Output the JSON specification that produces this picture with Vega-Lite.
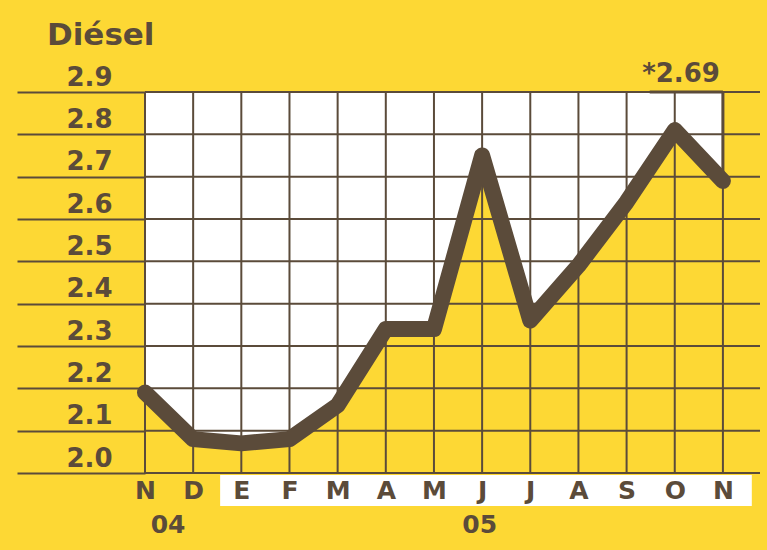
{
  "$schema": "https://vega.github.io/schema/vega-lite/v6.json",
  "autosize": "none",
  "width": 615,
  "height": 381,
  "padding": {"left": 145, "top": 92, "right": 7, "bottom": 77},
  "background": "#FDD834",
  "config": {"view": {"stroke": null, "fill": null}},
  "title": {
    "text": "Diésel",
    "anchor": "start",
    "frame": "group",
    "dx": -98,
    "dy": -5,
    "font": "DejaVu Sans",
    "fontSize": 31,
    "fontWeight": "bold",
    "color": "#5B4B3A"
  },
  "datasets": {
    "precios": [
      {"i": 0, "mes": "N", "precio": 2.19},
      {"i": 1, "mes": "D", "precio": 2.08},
      {"i": 2, "mes": "E", "precio": 2.07},
      {"i": 3, "mes": "F", "precio": 2.08},
      {"i": 4, "mes": "M", "precio": 2.16},
      {"i": 5, "mes": "A", "precio": 2.34},
      {"i": 6, "mes": "M", "precio": 2.34},
      {"i": 7, "mes": "J", "precio": 2.75},
      {"i": 8, "mes": "J", "precio": 2.36},
      {"i": 9, "mes": "A", "precio": 2.49},
      {"i": 10, "mes": "S", "precio": 2.64},
      {"i": 11, "mes": "O", "precio": 2.81},
      {"i": 12, "mes": "N", "precio": 2.69}
    ],
    "rejilla": [
      {"nivel": 2.0}, {"nivel": 2.1}, {"nivel": 2.2}, {"nivel": 2.3}, {"nivel": 2.4},
      {"nivel": 2.5}, {"nivel": 2.6}, {"nivel": 2.7}, {"nivel": 2.8}, {"nivel": 2.9}
    ],
    "anios": [
      {"pos": 0.48, "anio": "04"},
      {"pos": 6.95, "anio": "05"}
    ],
    "uno": [{"nota": "*2.69"}]
  },
  "layer": [
    {
      "data": {"name": "precios"},
      "mark": {"type": "area", "color": "#FFFFFF", "interpolate": "linear"},
      "encoding": {
        "x": {
          "field": "i", "type": "quantitative",
          "scale": {"domain": [0, 12.77], "nice": false, "zero": false},
          "axis": {
            "orient": "bottom", "title": null, "domain": false, "ticks": false, "grid": false,
            "values": [0, 1, 2, 3, 4, 5, 6, 7, 8, 9, 10, 11, 12],
            "labelExpr": "['N','D','E','F','M','A','M','J','J','A','S','O','N'][datum.value]",
            "labelFont": "DejaVu Sans", "labelFontWeight": "bold", "labelFontSize": 25,
            "labelColor": "#5B4B3A", "labelPadding": 5, "labelBaseline": "top",
            "labelFlush": false, "labelOverlap": false, "zindex": 1
          }
        },
        "y": {
          "field": "precio", "type": "quantitative",
          "scale": {"domain": [2.0, 2.9], "nice": false, "zero": false},
          "axis": {
            "orient": "left", "title": null, "domain": false, "grid": false,
            "values": [2.0, 2.1, 2.2, 2.3, 2.4, 2.5, 2.6, 2.7, 2.8, 2.9],
            "format": ".1f",
            "ticks": true, "tickSize": 128, "tickColor": "#5B4B3A", "tickWidth": 2,
            "labelFont": "DejaVu Sans", "labelFontWeight": "bold", "labelFontSize": 26,
            "labelColor": "#5B4B3A", "labelAlign": "right", "labelBaseline": "alphabetic",
            "labelPadding": -95, "labelOffset": -7, "labelFlush": false, "labelOverlap": false
          }
        },
        "y2": {"datum": 2.9}
      }
    },
    {
      "data": {"name": "uno"},
      "mark": {"type": "rect", "color": "#FFFFFF"},
      "encoding": {
        "x": {"datum": 1.56, "type": "quantitative"},
        "x2": {"datum": 12.6},
        "y": {"datum": 1.995, "type": "quantitative"},
        "y2": {"datum": 1.922}
      }
    },
    {
      "data": {"name": "rejilla"},
      "mark": {"type": "rule", "color": "#5B4B3A", "strokeWidth": 2},
      "encoding": {
        "y": {"field": "nivel", "type": "quantitative"}
      }
    },
    {
      "data": {"name": "precios"},
      "mark": {"type": "rule", "color": "#5B4B3A", "strokeWidth": 2},
      "encoding": {
        "x": {"field": "i", "type": "quantitative"}
      }
    },
    {
      "data": {"name": "uno"},
      "mark": {"type": "rule", "color": "#5B4B3A", "strokeWidth": 3},
      "encoding": {
        "x": {"datum": 12, "type": "quantitative"},
        "y": {"datum": 2.69, "type": "quantitative"},
        "y2": {"datum": 2.9}
      }
    },
    {
      "data": {"name": "uno"},
      "mark": {"type": "rule", "color": "#5B4B3A", "strokeWidth": 3},
      "encoding": {
        "x": {"datum": 10.48, "type": "quantitative"},
        "x2": {"datum": 12},
        "y": {"datum": 2.9, "type": "quantitative"}
      }
    },
    {
      "data": {"name": "precios"},
      "mark": {"type": "line", "color": "#5B4B3A", "strokeWidth": 16, "interpolate": "linear", "strokeCap": "round", "strokeJoin": "round"},
      "encoding": {
        "x": {"field": "i", "type": "quantitative"},
        "y": {"field": "precio", "type": "quantitative"}
      }
    },
    {
      "data": {"name": "uno"},
      "mark": {"type": "text", "font": "DejaVu Sans", "fontWeight": "bold", "fontSize": 26, "color": "#5B4B3A", "align": "right", "baseline": "alphabetic", "dx": -3, "dy": -10},
      "encoding": {
        "x": {"datum": 12, "type": "quantitative"},
        "y": {"datum": 2.9, "type": "quantitative"},
        "text": {"field": "nota"}
      }
    },
    {
      "data": {"name": "anios"},
      "mark": {"type": "text", "font": "DejaVu Sans", "fontWeight": "bold", "fontSize": 25, "color": "#5B4B3A", "align": "center", "baseline": "alphabetic", "dy": 60},
      "encoding": {
        "x": {"field": "pos", "type": "quantitative"},
        "y": {"datum": 2.0, "type": "quantitative"},
        "text": {"field": "anio"}
      }
    }
  ]
}
